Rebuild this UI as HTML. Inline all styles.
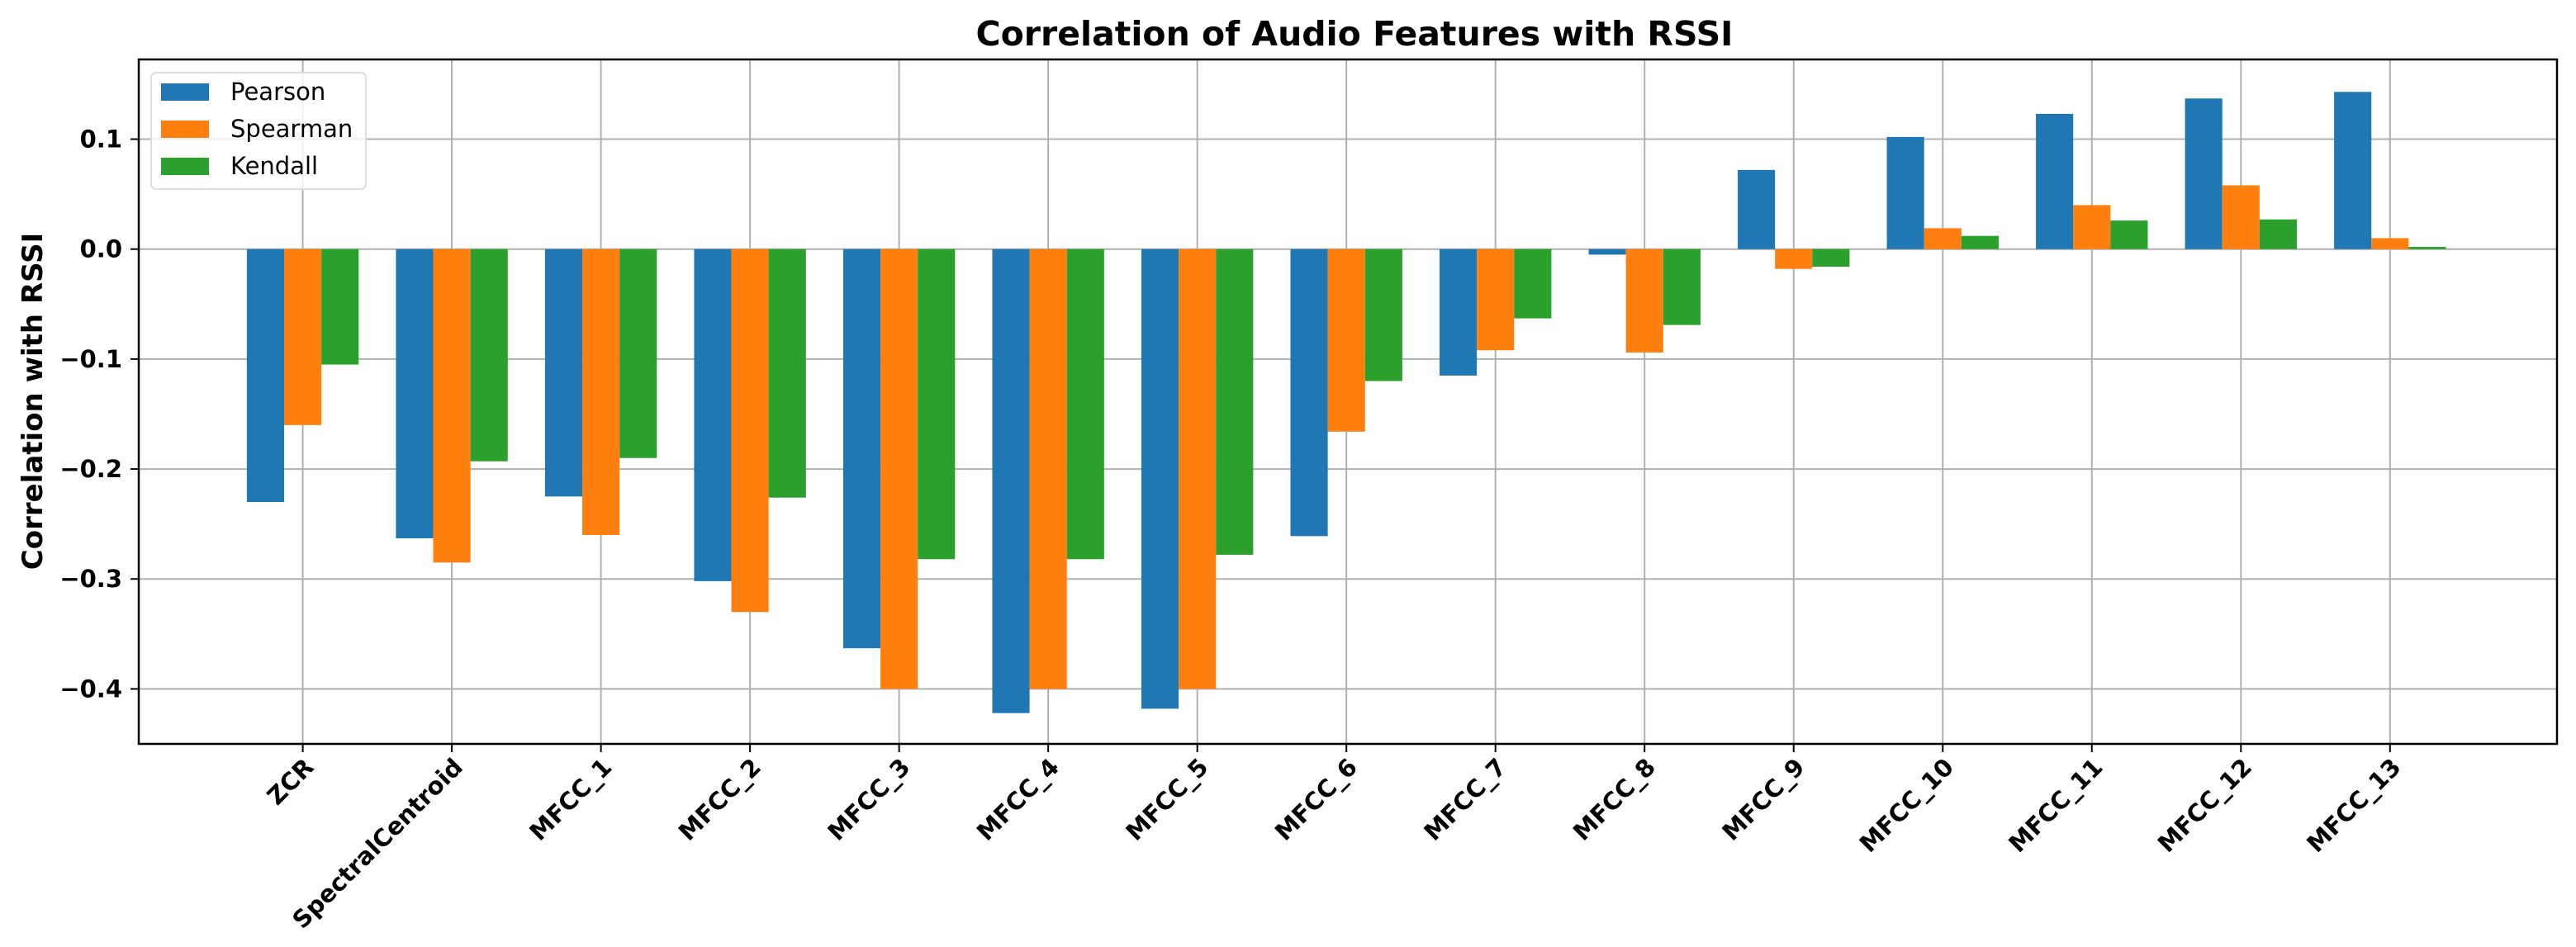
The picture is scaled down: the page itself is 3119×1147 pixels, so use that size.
<!DOCTYPE html>
<html><head><meta charset="utf-8"><style>
body{margin:0;background:#fff}
svg{display:block;font-family:"DejaVu Sans","Liberation Sans",sans-serif}
</style></head><body>
<svg id="chart" width="3119" height="1147" viewBox="0 0 3119 1147">
<rect width="3119" height="1147" fill="#fff"/>
<text x="1640" y="55" font-size="41" font-weight="bold" text-anchor="middle">Correlation of Audio Features with RSSI</text>
<text transform="translate(51,486) rotate(-90)" font-size="34" font-weight="bold" text-anchor="middle">Correlation with RSSI</text>
<g id="grid"></g><g id="bars"></g><g id="axes"></g>
<g>
<rect x="183" y="88" width="260" height="141" rx="6" fill="#fff" fill-opacity="0.8" stroke="#ddd" stroke-width="2"/>
<rect x="195" y="101" width="58" height="21" fill="#1f77b4"/>
<text x="279" y="121" font-size="29">Pearson</text>
<rect x="195" y="146" width="58" height="21" fill="#ff7f0e"/>
<text x="279" y="166" font-size="29">Spearman</text>
<rect x="195" y="191" width="58" height="21" fill="#2ca02c"/>
<text x="279" y="211" font-size="29">Kendall</text>
</g>
</svg>
<script>
const categories=["ZCR","SpectralCentroid","MFCC_1","MFCC_2","MFCC_3","MFCC_4","MFCC_5","MFCC_6","MFCC_7","MFCC_8","MFCC_9","MFCC_10","MFCC_11","MFCC_12","MFCC_13"];
const pearson=[-0.230,-0.263,-0.225,-0.302,-0.363,-0.422,-0.418,-0.261,-0.115,-0.005,0.072,0.102,0.123,0.137,0.143];
const spearman=[-0.160,-0.285,-0.260,-0.330,-0.400,-0.400,-0.400,-0.166,-0.092,-0.094,-0.018,0.019,0.040,0.058,0.010];
const kendall=[-0.105,-0.193,-0.190,-0.226,-0.282,-0.282,-0.278,-0.120,-0.063,-0.069,-0.016,0.012,0.026,0.027,0.002];
const yTicks=[0.1,0.0,-0.1,-0.2,-0.3,-0.4];
const yTickLabels=["0.1","0.0","\u22120.1","\u22120.2","\u22120.3","\u22120.4"];
const NS="http://www.w3.org/2000/svg";
const L=168,R=3096,T=72,B=901;
const xMin=-1.10,xMax=15.12,yMin=-0.45,yMax=0.1725;
const sx=v=>L+(v-xMin)/(xMax-xMin)*(R-L);
const sy=v=>B-(v-yMin)/(yMax-yMin)*(B-T);
function mk(tag,attrs,parent){const e=document.createElementNS(NS,tag);for(const k in attrs)e.setAttribute(k,attrs[k]);document.getElementById(parent).appendChild(e);return e;}
categories.forEach((c,i)=>{
  const g=mk('line',{x1:sx(i),x2:sx(i),y1:T,y2:B,stroke:'#b0b0b0','stroke-width':2},'grid');
  
  
});
yTicks.forEach(v=>{
  const g=mk('line',{x1:L,x2:R,y1:sy(v),y2:sy(v),stroke:'#b0b0b0','stroke-width':2},'grid');
  
  
});
const series=[[pearson,'#1f77b4','pearson',-1],[spearman,'#ff7f0e','spearman',0],[kendall,'#2ca02c','kendall',1]];
const w=0.25;
series.forEach(([vals,col,nm,off])=>{
  vals.forEach((v,i)=>{
    const x0=sx(i+off*w-w/2),x1=sx(i+off*w+w/2);
    const y0=sy(Math.max(v,0)),y1=sy(Math.min(v,0));
    const r=mk('rect',{x:x0,y:y0,width:x1-x0,height:Math.max(y1-y0,1),fill:col},'bars');
    
    
  });
});
const fr=mk('rect',{x:L,y:T,width:R-L,height:B-T,fill:'none',stroke:'#000','stroke-width':2.5},'axes');


yTicks.forEach((v,i)=>{
  const t=mk('line',{x1:L-10,x2:L,y1:sy(v),y2:sy(v),stroke:'#000','stroke-width':2},'axes');
  
  
  const tx=mk('text',{x:L-20,y:sy(v)+10,'font-size':29,'font-weight':'bold','text-anchor':'end'},'axes');
  tx.textContent=yTickLabels[i];
  
  
});
categories.forEach((c,i)=>{
  const x=sx(i);
  const t=mk('line',{x1:x,x2:x,y1:B,y2:B+10,stroke:'#000','stroke-width':2},'axes');
  
  
  const tx=mk('text',{transform:`translate(${x},${B+15}) rotate(-45)`,'font-size':29,'font-weight':'bold','text-anchor':'end',x:0,y:21},'axes');
  tx.textContent=c;
  
  
});
</script>
</body></html>
